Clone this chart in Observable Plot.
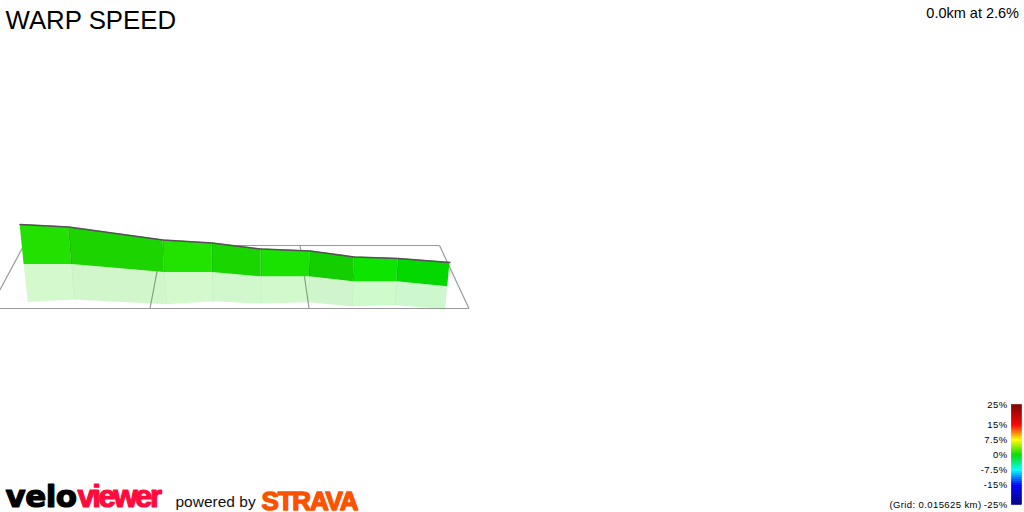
<!DOCTYPE html>
<html><head><meta charset="utf-8">
<script src="https://cdn.jsdelivr.net/npm/d3@7"></script>
<script src="https://cdn.jsdelivr.net/npm/@observablehq/plot@0.6"></script>
<style>
html,body{margin:0;padding:0;background:#fff;overflow:hidden}
.spaced text{letter-spacing:.4px}
.tight text{letter-spacing:-2.4px}
.tighter text{letter-spacing:-1.2px}
.wide text{letter-spacing:-.5px}
</style></head><body>
<script>
// Road wall in the chart's own projected units
const topX    = [19.6,68,162.6,211.6,260.6,309.6,353.8,397.8,449.5];
const topY    = [224,226.4,239.6,242.4,248.6,250.6,256.4,257.9,262];
const baseX   = [23.6,71.2,163.8,211.8,260.6,308.8,352.8,396.2,447.2];
const baseY   = [263.9,263.9,271.9,272.1,276.3,276.3,281.3,281.3,286.3];
const shadowX = [27.8,73.6,166.2,212.8,260.6,307.8,351.8,394.6,445.2];
const shadowY = [301.9,299.6,304.3,301.3,303.6,302.3,306.3,305.3,308.9];
const segmentColors = ["#22e000","#1cd400","#22e200","#1ad600","#1ae200","#13cf00","#0de500","#03d800"];
// Floor grid
const gridX1 = [-0.5,23.2,161.5,299.5,439,439];
const gridY1 = [308,245,245,245,245,245];
const gridX2 = [468.5,-10.5,149.5,308.5,468.5,23.2];
const gridY2 = [308,308,308,308,308,245];
// Legend
const legendTicks  = [25,15,7.5,0,-7.5,-15,-25];
const legendLabels = ["25%","15%","7.5%","0%","-7.5%","-15%","-25%"];
const legendColors = ["#800000","#ff0000","#ffff00","#00dd00","#00ffff","#0000ff","#000080"];
const legendSteps  = d3.range(-25,25,1);
const legendY = p => 454.3 - 2*p;
const legendBarY = p => 454.5 - 2*p;

const quad = (x1,y1,x2,y2,i,color) => [
  {x1:x1[i],y1:y1[i],x2:x2[i],y2:y2[i],z:i,color},
  {x1:x1[i+1],y1:y1[i+1],x2:x2[i+1],y2:y2[i+1],z:i,color}
];
const wall   = segmentColors.flatMap((c,i)=>quad(topX,topY,baseX,baseY,i,c));
const shadow = segmentColors.flatMap((c,i)=>quad(baseX,baseY,shadowX,shadowY,i,c));
const idx = topX.map((_,i)=>i);
const font = "Liberation Sans";

const chart = Plot.plot({
  width:1024,height:512,margin:0,
  x:{domain:[0,1024],range:[0,1024],axis:null},
  y:{domain:[0,512],range:[0,512],axis:null},
  color:{type:"linear",domain:[...legendTicks].reverse(),range:[...legendColors].reverse()},
  style:{background:"#fff"},
  marks:[
    Plot.link(gridX1,{x1:d=>d,y1:(d,i)=>gridY1[i],x2:(d,i)=>gridX2[i],y2:(d,i)=>gridY2[i],stroke:"#9a9a9a",strokeWidth:1.2}),
    Plot.area(shadow,{x1:"x1",y1:"y1",x2:"x2",y2:"y2",z:"z",fill:{value:"color",scale:null},fillOpacity:0.2}),
    Plot.link(idx.slice(1,-1),{x1:i=>baseX[i],y1:i=>baseY[i],x2:i=>shadowX[i],y2:i=>shadowY[i],stroke:"#000",strokeOpacity:0.03,strokeWidth:1}),
    Plot.area(wall,{x1:"x1",y1:"y1",x2:"x2",y2:"y2",z:"z",fill:{value:"color",scale:null}}),
    Plot.link(idx.slice(1,-1),{x1:i=>topX[i],y1:i=>topY[i],x2:i=>baseX[i],y2:i=>baseY[i],stroke:"#000",strokeOpacity:0.12,strokeWidth:1}),
    Plot.line(idx,{x:i=>topX[i],y:i=>topY[i],stroke:"#5a4d5a",strokeWidth:1.5}),
    Plot.rect(legendSteps,{x1:()=>1011.5,x2:()=>1021.5,y1:p=>legendBarY(p),y2:p=>legendBarY(p+1),fill:p=>p+0.5,stroke:p=>p+0.5,strokeWidth:0.6}),
    Plot.text(legendLabels,{x:()=>1007,y:(d,i)=>legendY(legendTicks[i]),text:d=>d,textAnchor:"end",fontFamily:font,fontSize:9.5,fill:"#000",className:"spaced"}),
    Plot.text(["(Grid: 0.015625 km)"],{x:()=>981,y:()=>504.3,text:d=>d,textAnchor:"end",fontFamily:font,fontSize:9.5,fill:"#000",className:"spaced"}),
    Plot.text(["WARP SPEED"],{x:()=>5,y:()=>20,text:d=>d,textAnchor:"start",fontFamily:font,fontSize:25.8,fill:"#000"}),
    Plot.text(["0.0km at 2.6%"],{x:()=>1018.5,y:()=>13,text:d=>d,textAnchor:"end",fontFamily:font,fontSize:14.5,fill:"#000"}),
    Plot.text(["velo"],{x:()=>5,y:()=>497,text:d=>d,textAnchor:"start",fontFamily:"DejaVu Sans",fontWeight:"bold",fontSize:31,fill:"#000",stroke:"#000",strokeWidth:1.2,className:"wide"}),
    Plot.text(["viewer"],{x:()=>77,y:()=>497,text:d=>d,textAnchor:"start",fontFamily:font,fontWeight:"bold",fontSize:31,fill:"#ff0a3c",stroke:"#ff0a3c",strokeWidth:1.2,className:"tight"}),
    Plot.text(["powered by"],{x:()=>175,y:()=>502,text:d=>d,textAnchor:"start",fontFamily:font,fontSize:15.5,fill:"#111"}),
    Plot.text(["STRAVA"],{x:()=>261,y:()=>501,text:d=>d,textAnchor:"start",fontFamily:font,fontWeight:"bold",fontSize:26,fill:"#fc5200",stroke:"#fc5200",strokeWidth:1.4,className:"tighter"})
  ]
});
document.body.append(chart);
</script></body></html>
